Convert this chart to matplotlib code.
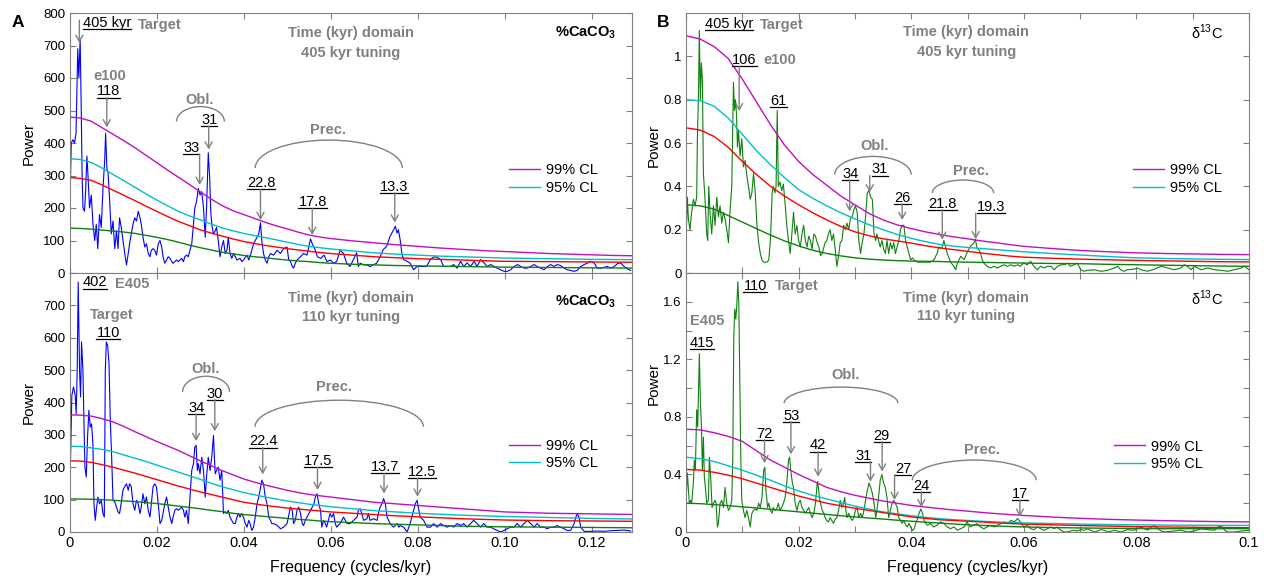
import matplotlib
matplotlib.use("Agg")
import matplotlib.pyplot as plt
from matplotlib.patches import Arc
from matplotlib.lines import Line2D

plt.rcParams['font.family'] = ['Liberation Sans', 'DejaVu Sans']
plt.rcParams['mathtext.fontset'] = 'custom'
plt.rcParams['mathtext.rm'] = 'Liberation Sans'
plt.rcParams['mathtext.bf'] = 'Liberation Sans:bold'

GRAY = '#808080'

# spectra: (frequency in 1e-3 cycles/kyr, power)
caco3_405 = [(0,138),(0.4,400),(0.8,410),(1.15,400),(1.5,430),(1.9,690),(2.15,600),(2.45,720),(2.7,500),(2.9,300),(3.1,200),(3.45,190),(3.7,250),(4.0,360),(4.25,300),(4.6,200),(5.0,240),(5.4,150),(5.8,100),(6.15,150),(6.5,75),(6.9,180),(7.3,140),(7.7,260),(8.1,350),(8.3,430),(8.6,320),(8.85,310),(9.2,230),(9.6,120),(10.0,160),(10.4,75),(10.8,130),(11.15,75),(11.5,170),(11.9,140),(12.3,100),(12.7,60),(13.1,25),(13.5,60),(13.8,90),(14.2,120),(14.6,150),(15.0,170),(15.4,160),(15.8,190),(16.2,170),(16.5,150),(16.9,110),(17.3,80),(17.7,90),(18.1,60),(18.5,50),(18.8,70),(19.2,75),(19.6,70),(20.0,55),(20.4,90),(20.8,100),(21.2,80),(21.5,50),(21.9,30),(22.3,40),(22.7,50),(23.1,45),(23.5,35),(23.8,30),(24.2,35),(24.6,40),(25.0,35),(25.4,40),(25.8,45),(26.2,35),(26.5,50),(26.9,55),(27.3,50),(27.7,70),(28.1,90),(28.5,150),(28.8,200),(29.2,220),(29.6,260),(30.0,240),(30.4,250),(30.8,200),(31.2,110),(31.5,200),(31.9,370),(32.2,300),(32.5,180),(32.8,140),(33.1,120),(33.5,130),(33.8,140),(34.2,100),(34.6,50),(35.0,80),(35.4,100),(35.8,60),(36.2,70),(36.5,110),(36.9,60),(37.3,45),(37.7,60),(38.1,50),(38.5,40),(39.2,45),(39.6,35),(40.0,40),(40.8,55),(41.2,40),(41.5,50),(41.9,70),(42.3,90),(42.7,100),(43.1,110),(43.5,120),(43.9,155),(44.2,100),(44.6,60),(45.0,40),(45.4,30),(45.8,50),(46.2,60),(46.9,55),(47.7,70),(48.5,60),(49.2,75),(50.0,80),(50.4,40),(50.8,35),(51.2,20),(51.5,15),(51.9,30),(52.3,40),(53.1,50),(53.8,60),(54.6,55),(55.0,80),(55.4,105),(55.8,90),(56.2,80),(56.5,70),(57.0,50),(57.7,45),(58.5,55),(59.2,35),(60.0,40),(60.7,30),(61.4,35),(62.2,70),(63.0,60),(63.7,30),(64.5,20),(65.2,40),(66.0,62),(66.4,20),(66.8,30),(67.6,25),(68.3,25),(69.1,20),(69.8,25),(70.6,30),(71.4,50),(72.1,72),(72.9,82),(73.7,113),(74.5,133),(74.9,144),(75.3,123),(75.6,133),(76.0,103),(76.4,60),(76.8,41),(77.6,36),(78.3,30),(79.1,10),(79.9,20),(80.6,20),(82.1,20),(82.9,41),(83.7,49),(84.5,49),(85.3,41),(86.0,20),(87.6,20),(88.3,26),(89.1,15),(89.9,36),(90.6,20),(91.4,31),(92.2,20),(93.0,36),(93.7,20),(94.5,41),(95.3,31),(96.0,20),(96.8,26),(97.6,20),(98.3,15),(99.1,10),(99.9,5),(100.6,5),(101.4,10),(102.2,20),(103.0,26),(103.7,20),(104.5,15),(105.2,15),(106.0,20),(106.8,26),(107.5,20),(108.3,15),(109.1,10),(109.9,20),(110.6,26),(111.4,20),(112.1,26),(112.9,23),(113.7,15),(114.4,10),(115.2,8),(116.0,5),(116.7,8),(117.5,20),(118.3,26),(119.1,31),(119.8,36),(120.6,31),(121.3,15),(122.1,15),(123.6,20),(124.4,15),(125.2,20),(126.0,29),(126.7,31),(127.5,20),(128.3,12),(129.0,8)]

caco3_110 = [(0,108),(0.23,221),(0.54,422),(0.92,448),(1.31,422),(1.54,365),(1.77,499),(2.0,772),(2.31,499),(2.54,417),(2.77,587),(3.08,499),(3.31,345),(3.54,200),(3.85,170),(4.15,293),(4.46,376),(4.77,324),(5.08,334),(5.38,273),(5.62,87),(5.92,36),(6.15,67),(6.54,108),(6.92,87),(7.31,98),(7.69,57),(8.0,46),(8.23,499),(8.46,587),(8.77,576),(9.08,520),(9.38,345),(9.69,231),(10.0,98),(10.4,93),(10.8,77),(11.15,62),(11.5,57),(11.9,90),(12.3,130),(12.7,140),(13.1,149),(13.5,129),(13.8,149),(14.2,140),(14.6,87),(15.0,67),(15.4,98),(15.8,87),(16.2,57),(16.5,77),(16.9,118),(17.3,87),(17.7,108),(18.1,67),(18.5,46),(18.8,87),(19.2,139),(19.6,149),(20.0,139),(20.4,87),(20.8,26),(21.2,36),(21.5,57),(21.9,87),(22.3,108),(22.7,77),(23.1,46),(23.5,26),(23.8,46),(24.2,67),(24.6,72),(25.0,67),(25.4,72),(25.8,77),(26.2,67),(26.5,46),(26.9,67),(27.3,26),(27.7,108),(28.1,190),(28.5,211),(28.8,262),(29.1,268),(29.4,190),(29.6,211),(30.0,180),(30.4,231),(30.8,190),(31.2,108),(31.5,170),(31.9,231),(32.3,190),(32.7,231),(33.1,298),(33.3,231),(33.5,180),(33.8,190),(34.2,200),(34.6,160),(35.0,190),(35.4,57),(35.8,62),(36.2,57),(36.5,67),(36.9,46),(37.7,26),(38.1,26),(38.5,46),(38.8,57),(39.2,46),(39.6,57),(40.0,46),(40.4,26),(40.8,15),(41.2,36),(41.5,26),(41.9,5),(42.3,15),(42.7,46),(43.1,87),(43.5,108),(43.8,129),(44.2,160),(44.6,149),(45.0,108),(45.4,87),(45.8,46),(46.2,36),(46.5,26),(46.9,26),(47.7,21),(48.5,10),(49.2,15),(50.0,26),(50.8,77),(51.2,67),(51.5,26),(51.9,36),(52.3,67),(52.7,77),(53.1,57),(53.5,26),(53.8,20),(54.2,36),(54.6,46),(55.4,67),(56.2,87),(56.5,108),(56.9,118),(57.3,87),(57.7,67),(58.0,15),(58.4,36),(58.8,26),(59.1,15),(59.9,57),(60.3,46),(60.7,57),(61.1,26),(61.4,15),(62.2,26),(63.0,46),(63.8,26),(64.5,26),(65.3,36),(66.1,46),(66.4,67),(66.8,72),(67.2,57),(67.6,36),(68.4,41),(68.7,57),(69.1,36),(69.9,41),(70.7,36),(71.0,57),(71.4,77),(71.8,87),(72.2,103),(72.6,87),(73.0,46),(73.7,26),(74.5,15),(75.3,26),(75.7,15),(76.0,20),(76.8,15),(77.6,0),(78.3,26),(79.1,67),(79.5,87),(79.9,98),(80.3,67),(80.6,46),(81.4,36),(82.2,15),(83.0,15),(83.7,26),(84.5,15),(85.3,26),(86.0,20),(86.8,15),(87.6,20),(88.3,15),(89.1,26),(89.9,20),(90.6,26),(91.4,15),(92.2,26),(92.9,36),(93.7,26),(94.5,15),(95.2,26),(96.0,15),(96.8,15),(97.5,10),(98.3,5),(99.1,0),(99.9,5),(100.6,10),(101.4,15),(102.2,15),(102.9,26),(103.7,15),(104.5,26),(105.2,36),(106.0,26),(106.8,15),(107.5,26),(108.3,15),(109.1,15),(109.8,10),(110.6,15),(111.4,15),(112.1,20),(112.9,15),(113.7,10),(114.4,5),(115.2,5),(116.0,26),(116.4,46),(116.7,57),(117.1,46),(117.5,15),(118.3,2),(119.8,2),(121.3,3),(122.8,2),(124.4,4),(126.0,5),(127.5,6),(129.0,3)]

d13c_405 = [(0,0.14),(0.24,0.35),(0.42,0.25),(0.71,0.2),(1.0,0.28),(1.31,0.34),(1.6,0.31),(1.9,0.35),(2.02,0.62),(2.2,0.8),(2.37,1.12),(2.55,0.8),(2.73,0.97),(2.91,0.89),(3.09,0.46),(3.38,0.34),(3.68,0.18),(3.86,0.15),(4.04,0.4),(4.27,0.28),(4.57,0.18),(4.87,0.31),(5.16,0.22),(5.46,0.35),(5.76,0.26),(6.05,0.31),(6.35,0.23),(6.65,0.28),(6.94,0.25),(7.24,0.2),(7.54,0.14),(7.83,0.29),(8.13,0.4),(8.43,0.88),(8.61,0.75),(8.78,0.8),(8.96,0.74),(9.14,0.58),(9.32,0.66),(9.61,0.54),(9.91,0.62),(10.2,0.49),(10.5,0.52),(10.8,0.45),(11.1,0.4),(11.4,0.34),(11.7,0.37),(12.0,0.46),(12.3,0.37),(12.6,0.22),(12.9,0.14),(13.2,0.09),(13.5,0.06),(13.8,0.05),(14.4,0.05),(14.7,0.06),(15.0,0.15),(15.3,0.37),(15.5,0.4),(15.8,0.37),(16.0,0.4),(16.2,0.75),(16.4,0.4),(16.7,0.42),(17.0,0.38),(17.3,0.41),(17.6,0.32),(17.9,0.22),(18.2,0.15),(18.5,0.09),(18.8,0.18),(19.1,0.28),(19.4,0.18),(19.7,0.22),(20.0,0.15),(20.3,0.12),(20.6,0.18),(20.9,0.22),(21.2,0.15),(21.5,0.12),(21.8,0.17),(22.1,0.15),(22.4,0.11),(22.7,0.18),(23.0,0.17),(23.3,0.14),(23.6,0.12),(23.9,0.08),(24.2,0.09),(24.5,0.12),(24.7,0.14),(25.0,0.15),(25.3,0.18),(25.6,0.2),(25.9,0.15),(26.2,0.18),(26.5,0.11),(26.8,0.03),(27.1,0.08),(27.4,0.14),(27.7,0.15),(28.0,0.22),(28.3,0.2),(28.6,0.23),(28.9,0.2),(29.2,0.25),(29.5,0.26),(29.8,0.29),(30.1,0.31),(30.4,0.28),(30.7,0.15),(31.0,0.09),(31.3,0.14),(31.6,0.18),(31.9,0.26),(32.2,0.37),(32.5,0.38),(32.8,0.35),(33.1,0.34),(33.4,0.18),(33.7,0.15),(33.9,0.18),(34.2,0.15),(34.5,0.12),(34.8,0.15),(35.1,0.11),(35.4,0.09),(35.7,0.15),(36.0,0.09),(36.3,0.14),(36.6,0.11),(36.9,0.14),(37.2,0.09),(37.5,0.12),(37.8,0.15),(38.1,0.2),(38.4,0.22),(38.7,0.22),(39.0,0.15),(39.3,0.12),(39.6,0.09),(39.9,0.06),(40.2,0.07),(40.5,0.06),(41.1,0.05),(41.7,0.05),(42.3,0.05),(42.8,0.05),(43.4,0.05),(44.0,0.06),(44.6,0.09),(44.9,0.12),(45.2,0.115),(45.5,0.12),(45.8,0.15),(46.1,0.12),(46.4,0.09),(47.0,0.05),(47.6,0.03),(47.9,0.015),(48.2,0.046),(48.5,0.062),(48.8,0.077),(49.4,0.062),(49.9,0.092),(50.5,0.123),(51.1,0.138),(51.4,0.155),(51.7,0.115),(52.0,0.108),(52.3,0.092),(52.6,0.062),(52.9,0.046),(53.5,0.031),(54.1,0.023),(54.7,0.031),(55.3,0.023),(55.9,0.031),(56.5,0.038),(57.1,0.031),(57.7,0.038),(58.3,0.031),(58.9,0.038),(59.4,0.031),(60.0,0.046),(60.6,0.038),(61.2,0.054),(61.8,0.031),(62.4,0.015),(63.0,0.031),(63.6,0.023),(64.2,0.031),(64.8,0.031),(65.4,0.015),(66.0,0.031),(66.6,0.038),(67.2,0.038),(67.8,0.046),(68.3,0.031),(68.9,0.038),(69.5,0.046),(70.1,0.015),(70.7,0.008),(71.3,0.012),(72.5,0.015),(73.7,0.008),(74.9,0.012),(75.5,0.018),(76.1,0.023),(76.7,0.031),(77.2,0.015),(77.8,0.008),(78.4,0.015),(79.6,0.018),(80.2,0.023),(80.8,0.015),(82.0,0.008),(83.2,0.018),(84.4,0.031),(85.6,0.023),(86.7,0.015),(87.9,0.023),(88.5,0.038),(89.1,0.031),(89.7,0.015),(90.3,0.031),(90.9,0.023),(91.5,0.015),(92.7,0.023),(93.9,0.015),(95.1,0.012),(96.2,0.008),(97.4,0.015),(98.6,0.023),(99.2,0.031),(100.0,0.015)]

d13c_110 = [(0,0.2),(0.24,0.41),(0.59,0.2),(0.83,0.22),(1.0,0.2),(1.31,0.34),(1.48,0.5),(1.66,0.43),(1.9,0.85),(2.08,0.73),(2.26,1.06),(2.37,1.24),(2.55,0.9),(2.73,0.76),(2.91,0.43),(3.09,0.66),(3.26,0.38),(3.44,0.31),(3.68,0.2),(3.98,0.22),(4.15,0.52),(4.39,0.38),(4.63,0.17),(4.87,0.2),(5.16,0.22),(5.34,0.2),(5.58,0.035),(5.76,0.06),(6.05,0.2),(6.35,0.22),(6.65,0.17),(6.94,0.31),(7.24,0.2),(7.54,0.15),(7.83,0.17),(8.13,0.22),(8.31,0.52),(8.49,1.36),(8.66,1.55),(8.84,1.48),(9.02,1.57),(9.2,1.74),(9.38,1.59),(9.55,1.06),(9.73,0.52),(9.91,0.22),(10.2,0.15),(10.5,0.1),(10.8,0.15),(11.1,0.1),(11.4,0.035),(11.7,0.13),(12.0,0.15),(12.3,0.16),(12.6,0.15),(12.9,0.2),(13.2,0.17),(13.5,0.24),(13.8,0.43),(14.0,0.45),(14.2,0.29),(14.5,0.17),(14.7,0.2),(15.0,0.15),(15.3,0.13),(15.5,0.17),(15.8,0.15),(16.1,0.16),(16.4,0.2),(16.7,0.15),(17.0,0.17),(17.3,0.2),(17.6,0.24),(17.9,0.34),(18.2,0.5),(18.4,0.52),(18.6,0.43),(18.9,0.34),(19.1,0.31),(19.4,0.2),(19.7,0.15),(20.0,0.2),(20.3,0.22),(20.6,0.17),(20.9,0.15),(21.2,0.13),(21.5,0.15),(21.8,0.17),(22.1,0.13),(22.4,0.1),(22.7,0.13),(23.0,0.2),(23.3,0.34),(23.4,0.35),(23.7,0.24),(23.9,0.2),(24.2,0.15),(24.5,0.13),(24.7,0.1),(25.0,0.08),(25.3,0.07),(25.6,0.1),(25.9,0.08),(26.2,0.06),(26.5,0.09),(26.8,0.1),(27.1,0.15),(27.4,0.22),(27.7,0.17),(28.0,0.2),(28.2,0.24),(28.4,0.15),(28.6,0.1),(28.9,0.13),(29.2,0.1),(29.5,0.08),(29.8,0.1),(30.1,0.15),(30.4,0.17),(30.7,0.1),(31.0,0.13),(31.3,0.1),(31.6,0.15),(31.9,0.22),(32.2,0.29),(32.5,0.34),(32.8,0.31),(33.1,0.27),(33.4,0.2),(33.7,0.1),(33.9,0.15),(34.2,0.24),(34.5,0.36),(34.8,0.4),(35.1,0.34),(35.4,0.31),(35.7,0.24),(36.0,0.1),(36.3,0.15),(36.6,0.2),(36.9,0.22),(37.2,0.2),(37.5,0.17),(37.8,0.1),(38.1,0.08),(38.4,0.06),(38.7,0.08),(39.0,0.05),(39.3,0.035),(39.6,0.06),(39.9,0.035),(40.2,0.01),(40.5,0.02),(40.8,0.06),(41.1,0.09),(41.4,0.13),(41.7,0.16),(42.0,0.13),(42.3,0.08),(42.6,0.06),(42.9,0.047),(43.4,0.06),(44.0,0.035),(44.6,0.047),(45.2,0.07),(45.8,0.06),(46.4,0.035),(47.0,0.023),(47.6,0.035),(48.2,0.012),(48.8,0.023),(49.4,0.035),(49.9,0.07),(50.5,0.035),(51.1,0.047),(51.7,0.058),(52.3,0.035),(52.9,0.023),(53.5,0.035),(54.1,0.047),(54.7,0.035),(55.3,0.047),(55.9,0.058),(56.5,0.07),(57.1,0.058),(57.7,0.081),(58.3,0.07),(58.9,0.093),(59.4,0.07),(60.0,0.035),(60.6,0.047),(61.2,0.023),(61.8,0.016),(62.4,0.035),(63.0,0.023),(63.6,0.012),(64.2,0.023),(64.8,0.035),(65.4,0.023),(65.9,0.035),(66.6,0.012),(67.2,0.0),(67.8,0.0),(68.3,0.007),(68.9,0.012),(69.5,0.007),(70.1,0.016),(70.7,0.012),(71.3,0.023),(71.9,0.012),(72.5,0.0),(73.1,0.007),(73.7,0.016),(74.3,0.012),(74.9,0.0),(76.1,0.012),(77.2,0.0),(78.4,0.016),(79.6,0.012),(80.2,0.023),(80.8,0.035),(81.4,0.023),(82.0,0.012),(82.6,0.035),(83.2,0.047),(83.8,0.023),(84.4,0.007),(85.0,0.0),(86.7,0.007),(87.9,0.012),(89.1,0.0),(90.3,0.007),(91.5,0.023),(92.7,0.016),(93.9,0.012),(94.5,0.035),(95.1,0.04),(95.6,0.016),(96.2,0.0),(97.4,0.0),(98.6,0.007),(100.0,0.012)]

# confidence levels (frequency nodes in 1e-3 cycles/kyr)
cl_f_a = [0, 2.5, 5, 7.5, 10, 12.5, 15, 17.5, 20, 22.5, 25, 27.5, 30, 32.5, 35, 37.5, 40, 42.5, 45, 47.5, 50, 52.5, 55, 57.5, 60,
          65, 70, 75, 80, 85, 90, 95, 100, 105, 110, 115, 120, 125, 130]
a405_cl99 = [480, 477, 467, 447, 427, 407, 386, 363, 340, 317, 295, 273, 250, 228, 208, 192, 180, 168, 156, 145, 136, 126, 117, 111, 106,
             99, 93, 87, 82, 77, 73, 69, 66, 63, 60, 58, 56, 54, 53]
a405_cl95 = [352, 349, 340, 323, 303, 284, 264, 244, 225, 207, 190, 176, 164, 151, 139, 130, 122, 115, 109, 102, 95, 88, 82, 78, 74,
             68, 62, 58, 55, 52, 50, 48, 46, 45, 44, 43, 42, 41.5, 41]
a405_cl90 = [294, 291, 285, 271, 255, 239, 223, 206, 190, 174, 159, 146, 133, 123, 114, 105, 97, 91, 85, 80, 75, 71, 67, 63, 60,
             55, 50, 47, 44, 42, 40, 38, 36, 35.5, 35, 34.5, 34, 33.5, 33]
a405_med = [138, 137, 135, 132, 129, 126, 122, 116, 110, 103, 95, 86, 78, 71, 64, 59, 54, 50, 47, 43, 40, 37, 35, 32, 30,
            27, 25, 23, 22, 21, 20, 19, 18, 17.5, 17, 16.5, 16, 15.5, 15]
a110_cl99 = [362, 361, 358, 350, 340, 326, 310, 295, 280, 266, 252, 236, 220, 205, 190, 177, 164, 154, 145, 137, 129, 122, 116, 112, 108,
             100, 92, 87, 82, 77, 72, 67, 62, 60, 58, 57, 56, 55, 54]
a110_cl95 = [265, 264, 260, 255, 248, 238, 228, 218, 207, 196, 185, 174, 163, 151, 140, 131, 122, 115, 108, 102, 96, 91, 86, 82, 78,
             72, 66, 62, 58, 55, 52, 50, 48, 46.5, 45, 43.5, 42, 41, 40]
a110_cl90 = [220, 219, 215, 208, 200, 191, 182, 172, 162, 152, 142, 133, 124, 116, 108, 100, 92, 87, 82, 78, 74, 71, 68, 65, 62,
             58, 54, 50, 47, 44, 41, 39, 37, 36, 35, 34.5, 34, 33.5, 33]
a110_med = [102, 102, 101, 100, 98, 96, 94, 91, 88, 84, 80, 76, 72, 67, 63, 58, 54, 51, 48, 45, 42, 39, 37, 34, 32,
            29, 26, 24, 22, 20, 18, 17, 16, 15.5, 15, 14.5, 14, 13.5, 13]

cl_f_b = [0, 2.5, 5, 7.5, 10, 12.5, 15, 17.5, 20, 22.5, 25, 27.5, 30, 32.5, 35, 37.5, 40, 42.5, 45, 47.5, 50, 52.5, 55, 57.5, 60,
          65, 70, 75, 80, 85, 90, 95, 100]
b405_cl99 = [1.095, 1.08, 1.045, 0.99, 0.895, 0.79, 0.685, 0.59, 0.515, 0.455, 0.405, 0.355, 0.315, 0.275, 0.245, 0.222, 0.205, 0.19, 0.178, 0.167, 0.158, 0.148, 0.14, 0.131, 0.123,
             0.113, 0.104, 0.098, 0.093, 0.09, 0.088, 0.086, 0.085]
b405_cl95 = [0.80, 0.795, 0.77, 0.715, 0.64, 0.565, 0.50, 0.44, 0.385, 0.345, 0.31, 0.278, 0.25, 0.223, 0.2, 0.178, 0.16, 0.145, 0.132, 0.124, 0.118, 0.113, 0.108, 0.103, 0.098,
             0.09, 0.083, 0.076, 0.07, 0.067, 0.065, 0.063, 0.062]
b405_cl90 = [0.67, 0.66, 0.63, 0.58, 0.515, 0.455, 0.40, 0.355, 0.315, 0.278, 0.245, 0.215, 0.19, 0.172, 0.158, 0.148, 0.138, 0.126, 0.116, 0.108, 0.1, 0.092, 0.085, 0.078, 0.073,
             0.068, 0.064, 0.061, 0.058, 0.056, 0.054, 0.052, 0.051]
b405_med = [0.315, 0.31, 0.295, 0.265, 0.235, 0.205, 0.175, 0.148, 0.125, 0.105, 0.09, 0.079, 0.07, 0.064, 0.06, 0.057, 0.055, 0.054, 0.053, 0.051, 0.05, 0.049, 0.048, 0.047, 0.046,
            0.044, 0.043, 0.04, 0.038, 0.036, 0.034, 0.032, 0.031]
b110_cl99 = [0.714, 0.71, 0.69, 0.665, 0.63, 0.565, 0.50, 0.45, 0.40, 0.355, 0.31, 0.28, 0.255, 0.235, 0.215, 0.2, 0.185, 0.174, 0.163, 0.153, 0.145, 0.136, 0.128, 0.121, 0.115,
             0.104, 0.095, 0.088, 0.083, 0.079, 0.075, 0.072, 0.07]
b110_cl95 = [0.52, 0.51, 0.49, 0.46, 0.43, 0.395, 0.36, 0.32, 0.285, 0.255, 0.23, 0.205, 0.18, 0.16, 0.14, 0.126, 0.113, 0.102, 0.093, 0.086, 0.08, 0.075, 0.07, 0.066, 0.063,
             0.059, 0.055, 0.052, 0.05, 0.048, 0.047, 0.046, 0.046]
b110_cl90 = [0.435, 0.43, 0.415, 0.395, 0.37, 0.34, 0.31, 0.28, 0.25, 0.225, 0.2, 0.182, 0.165, 0.15, 0.135, 0.12, 0.105, 0.095, 0.085, 0.08, 0.075, 0.07, 0.064, 0.059, 0.055,
             0.05, 0.045, 0.041, 0.037, 0.035, 0.033, 0.031, 0.03]
b110_med = [0.2, 0.197, 0.19, 0.183, 0.175, 0.167, 0.158, 0.149, 0.14, 0.131, 0.122, 0.113, 0.105, 0.097, 0.09, 0.082, 0.075, 0.068, 0.062, 0.056, 0.05, 0.046, 0.042, 0.038, 0.035,
            0.031, 0.028, 0.026, 0.024, 0.023, 0.023, 0.023, 0.023]

xt_a = [0, 0.02, 0.04, 0.06, 0.08, 0.10, 0.12]
xtl_a = ['0', '0.02', '0.04', '0.06', '0.08', '0.10', '0.12']
xt_b = [0, 0.01, 0.02, 0.03, 0.04, 0.05, 0.06, 0.07, 0.08, 0.09, 0.1]
xtl_b = ['0', '', '0.02', '', '0.04', '', '0.06', '', '0.08', '', '0.1']
yt_a = [0, 100, 200, 300, 400, 500, 600, 700, 800]
ytl_a_top = ['0', '100', '200', '300', '400', '500', '600', '700', '800']
ytl_a_bot = ['0', '100', '200', '300', '400', '500', '600', '700', '']
yt_b_top = [0, 0.2, 0.4, 0.6, 0.8, 1.0]
ytl_b_top = ['0', '0.2', '0.4', '0.6', '0.8', '1']
yt_b_bot = [0, 0.2, 0.4, 0.6, 0.8, 1.0, 1.2, 1.4, 1.6, 1.8]
ytl_b_bot = ['0', '', '0.4', '', '0.8', '', '1.2', '', '1.6', '']

fig = plt.figure(figsize=(12.71, 5.79), dpi=100)


def place(l, t, r, b):
    return fig.add_axes([l / 1271, 1 - b / 579, (r - l) / 1271, (b - t) / 579])


axA1 = place(69.5, 13, 632, 273)
axA2 = place(69.5, 273, 632, 532)
axB1 = place(686, 13, 1249, 273)
axB2 = place(686, 273, 1249, 532)


def draw_panel(ax, pairs, color, cl_f, c99, c95, c90, cmed):
    ax.plot([f / 1000 for f, _ in pairs], [p for _, p in pairs], color=color, lw=0.8)
    fc = [v / 1000 for v in cl_f]
    l99, = ax.plot(fc, c99, color='#c010c0', lw=1)
    l95, = ax.plot(fc, c95, color='#00c0c8', lw=1)
    ax.plot(fc, c90, color='#ff0000', lw=1)
    ax.plot(fc, cmed, color='#108010', lw=1)
    return l99, l95


def style(ax, xmax, xt, xtl, ymax, yt, ytl, show_x):
    ax.set_xlim(0, xmax)
    ax.set_ylim(0, ymax)
    ax.set_xticks(xt)
    ax.set_xticklabels(xtl)
    ax.set_yticks(yt)
    ax.set_yticklabels(ytl)
    ax.tick_params(direction='in', top=True, right=True, length=4, width=0.8,
                   color=GRAY, pad=3)
    ax.tick_params(axis='x', labelsize=10.5, labelbottom=show_x)
    ax.tick_params(axis='y', labelsize=9.5)
    for s in ax.spines.values():
        s.set_color(GRAY)
        s.set_linewidth(0.8)


underlined = []


def peak(ax, s, x, y, ax_x=None, tip=None, start=None, ha='center'):
    t = ax.annotate(s, (x, y), xytext=(0, 1.5), textcoords='offset points',
                    ha=ha, va='baseline', fontsize=10.5)
    underlined.append((ax, t, y))
    if tip is not None:
        y0 = y if start is None else start
        ax.annotate('', xy=(ax_x, tip), xytext=(ax_x, y0),
                    arrowprops=dict(arrowstyle='->,head_length=0.45,head_width=0.25',
                                    color=GRAY, lw=1, shrinkA=0, shrinkB=0))


def gray(ax, x, y, s, ha='center'):
    ax.text(x, y, s, color=GRAY, fontsize=10.5, fontweight='bold', ha=ha, va='center')


def arc(ax, cx, cy, w, h):
    ax.add_patch(Arc((cx, cy), w, h, theta1=0, theta2=180, color=GRAY, lw=1))


def legend(ax, handles, x, y):
    ax.legend(handles, ['99% CL', '95% CL'], loc='center left', bbox_to_anchor=(x, y),
              frameon=False, fontsize=10.5, handlelength=2.1, handletextpad=0.4,
              borderpad=0, borderaxespad=0, labelspacing=0.25)


# ---- A top
h = draw_panel(axA1, caco3_405, '#0000ff', cl_f_a, a405_cl99, a405_cl95, a405_cl90, a405_med)
style(axA1, 0.1293, xt_a, xtl_a, 800, yt_a, ytl_a_top, False)
legend(axA1, h, 0.7815, 0.3615)
peak(axA1, '405 kyr', 0.0031, 750, 0.00226, 708, start=778, ha='left')
gray(axA1, 0.0158, 763, 'Target', ha='left')
gray(axA1, 0.0092, 606, 'e100')
peak(axA1, '118', 0.00895, 540, 0.00857, 448)
gray(axA1, 0.0298, 532, 'Obl.')
arc(axA1, 0.0301, 466, 0.011, 92)
peak(axA1, '33', 0.0280, 366, 0.02991, 271)
peak(axA1, '31', 0.0321, 452, 0.0320, 380)
gray(axA1, 0.0594, 440, 'Prec.')
arc(axA1, 0.0596, 323, 0.0338, 172)
peak(axA1, '22.8', 0.04405, 257, 0.0439, 163)
peak(axA1, '17.8', 0.0559, 199, 0.0558, 117)
peak(axA1, '13.3', 0.0746, 247, 0.07477, 155)
gray(axA1, 0.0647, 738, 'Time (kyr) domain')
gray(axA1, 0.0647, 677, '405 kyr tuning')
axA1.text(0.1257, 738, r'%CaCO$_\mathbf{3}$', fontsize=10.5, fontweight='bold', ha='right', va='center')

# ---- A bottom
h = draw_panel(axA2, caco3_110, '#0000ff', cl_f_a, a110_cl99, a110_cl95, a110_cl90, a110_med)
style(axA2, 0.1293, xt_a, xtl_a, 800, yt_a, ytl_a_bot, True)
legend(axA2, h, 0.7815, 0.299)
peak(axA2, '402', 0.0031, 752, ha='left')
gray(axA2, 0.0105, 765, 'E405', ha='left')
gray(axA2, 0.00963, 669, 'Target')
peak(axA2, '110', 0.00887, 597)
gray(axA2, 0.0314, 503, 'Obl.')
arc(axA2, 0.0314, 433, 0.0108, 96)
peak(axA2, '34', 0.0291, 364, 0.0291, 281)
peak(axA2, '30', 0.0334, 409, 0.0334, 311)
gray(axA2, 0.0608, 448, 'Prec.')
arc(axA2, 0.062, 325, 0.0387, 164)
peak(axA2, '22.4', 0.0445, 261, 0.04442, 178)
peak(axA2, '17.5', 0.0571, 200, 0.0570, 130)
peak(axA2, '13.7', 0.07246, 181, 0.0723, 119)
peak(axA2, '12.5', 0.0810, 166, 0.0800, 109)
gray(axA2, 0.0647, 722, 'Time (kyr) domain')
gray(axA2, 0.0647, 665, '110 kyr tuning')
axA2.text(0.1257, 710, r'%CaCO$_\mathbf{3}$', fontsize=10.5, fontweight='bold', ha='right', va='center')

# ---- B top
h = draw_panel(axB1, d13c_405, '#108010', cl_f_b, b405_cl99, b405_cl95, b405_cl90, b405_med)
style(axB1, 0.1, xt_b, xtl_b, 1.2, yt_b_top, ytl_b_top, False)
legend(axB1, h, 0.7945, 0.3615)
peak(axB1, '405 kyr', 0.00338, 1.122, ha='left')
gray(axB1, 0.01317, 1.144, 'Target', ha='left')
peak(axB1, '106', 0.01036, 0.955, 0.00944, 0.747)
gray(axB1, 0.01376, 0.981, 'e100', ha='left')
peak(axB1, '61', 0.01643, 0.767)
gray(axB1, 0.03344, 0.585, 'Obl.')
arc(axB1, 0.0332, 0.454, 0.0136, 0.168)
peak(axB1, '34', 0.02915, 0.43, 0.02908, 0.284)
peak(axB1, '31', 0.0344, 0.45, 0.03264, 0.372)
peak(axB1, '26', 0.03846, 0.319, 0.0384, 0.245)
gray(axB1, 0.0507, 0.469, 'Prec.')
arc(axB1, 0.0492, 0.369, 0.0109, 0.12)
peak(axB1, '21.8', 0.04558, 0.292, 0.04552, 0.153)
peak(axB1, '19.3', 0.05412, 0.276, 0.05145, 0.156)
gray(axB1, 0.0498, 1.111, 'Time (kyr) domain')
gray(axB1, 0.0498, 1.019, '405 kyr tuning')
axB1.text(0.0954, 1.11, r'δ$^{13}$C', fontsize=10.5, ha='right', va='center')

# ---- B bottom
h = draw_panel(axB2, d13c_110, '#108010', cl_f_b, b110_cl99, b110_cl95, b110_cl90, b110_med)
style(axB2, 0.1, xt_b, xtl_b, 1.8, yt_b_bot, ytl_b_bot, True)
legend(axB2, h, 0.7607, 0.296)
peak(axB2, '110', 0.0102, 1.667, ha='left')
gray(axB2, 0.01573, 1.711, 'Target', ha='left')
gray(axB2, 0.0007, 1.463, 'E405', ha='left')
peak(axB2, '415', 0.00288, 1.271)
gray(axB2, 0.0283, 1.092, 'Obl.')
arc(axB2, 0.02754, 0.895, 0.0202, 0.224)
peak(axB2, '53', 0.0187, 0.767, 0.01864, 0.54)
peak(axB2, '72', 0.01395, 0.64, 0.01395, 0.478)
peak(axB2, '42', 0.02346, 0.559, 0.02346, 0.385)
peak(axB2, '31', 0.03147, 0.489, 0.03277, 0.35)
peak(axB2, '29', 0.03478, 0.628, 0.03484, 0.42)
peak(axB2, '27', 0.03855, 0.397, 0.03704, 0.223)
peak(axB2, '24', 0.04185, 0.28, 0.0418, 0.172)
gray(axB2, 0.0525, 0.57, 'Prec.')
arc(axB2, 0.0512, 0.36, 0.022, 0.28)
peak(axB2, '17', 0.0593, 0.223, 0.0593, 0.106)
gray(axB2, 0.0498, 1.626, 'Time (kyr) domain')
gray(axB2, 0.0498, 1.498, '110 kyr tuning')
axB2.text(0.0954, 1.626, r'δ$^{13}$C', fontsize=10.5, ha='right', va='center')

for ax in (axA1, axA2):
    ax.set_ylabel('Power', fontsize=11)
    ax.yaxis.set_label_coords(-0.06, 0.5)
axB1.set_ylabel('Power', fontsize=11)
axB1.yaxis.set_label_coords(-0.044, 0.49)
axB2.set_ylabel('Power', fontsize=11)
axB2.yaxis.set_label_coords(-0.044, 0.575)
for ax in (axA2, axB2):
    ax.set_xlabel('Frequency (cycles/kyr)', fontsize=11.5)
    ax.xaxis.set_label_coords(0.5, -0.108)

fig.text(11.7 / 1271, 1 - 22.5 / 579, 'A', fontsize=12.5, fontweight='bold', va='center')
fig.text(656.7 / 1271, 1 - 22.5 / 579, 'B', fontsize=12.5, fontweight='bold', va='center')

# underline the peak labels
fig.canvas.draw()
r = fig.canvas.get_renderer()
for ax, t, y in underlined:
    bb = t.get_window_extent(r)
    inv = ax.transData.inverted()
    x0 = inv.transform((bb.x0, 0))[0]
    x1 = inv.transform((bb.x1, 0))[0]
    ax.add_line(Line2D([x0, x1], [y, y], color='black', lw=0.9))

fig.savefig('out.png', dpi=100)
